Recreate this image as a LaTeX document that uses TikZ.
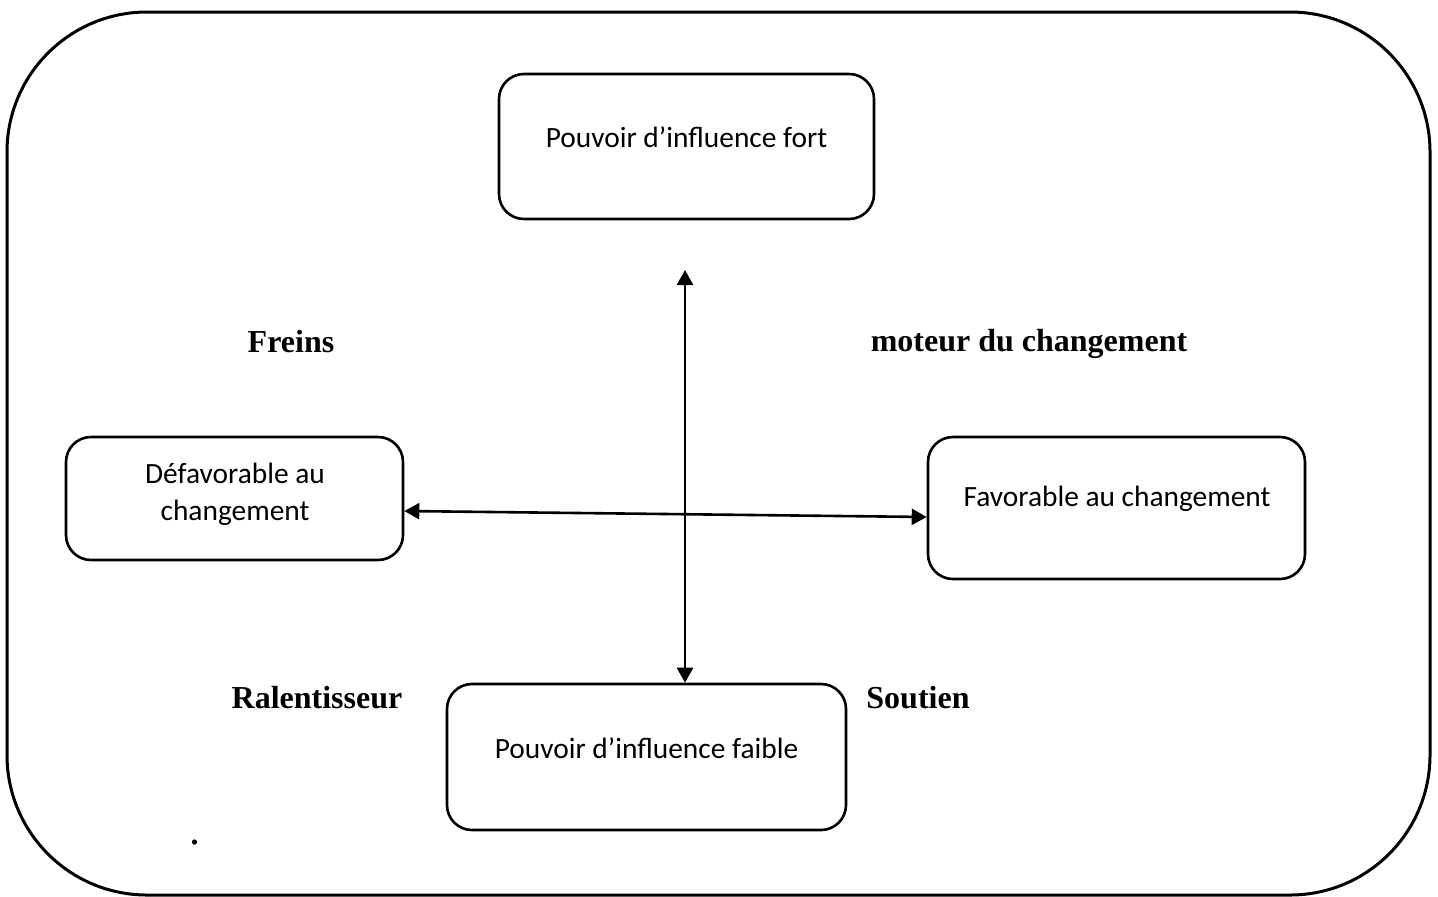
\documentclass[tikz,border=0pt]{standalone}
\usepackage{fontspec}
\setmainfont{Liberation Serif}
\newfontfamily\boxfont{Carlito}
\usetikzlibrary{arrows.meta}
\tikzset{
  frame/.style={draw=black, line width=1.5pt, rounded corners=70pt},
  box/.style={draw=black, line width=1.3pt, rounded corners=12.5pt, inner sep=0pt},
  boxtxt/.style={font=\boxfont\fontsize{14.7}{18.5}\selectfont, align=center, inner sep=0pt},
  lbl/.style={font=\fontsize{16}{19}\selectfont\bfseries, inner sep=0pt},
  conn/.style={line width=1.3pt, {Triangle[length=7.5pt,width=8pt]}-{Triangle[length=7.5pt,width=8pt]}}
}
\begin{document}
\begin{tikzpicture}[x=0.5pt,y=-0.5pt]
\useasboundingbox (0,0) rectangle (1438,896);
\draw[frame] (7,12) rectangle (1430,895);
% boxes
\node[box, minimum width=187.5pt, minimum height=72.5pt] (T) at (686.5,146.5) {};
\node[box, minimum width=168.5pt, minimum height=61.5pt] (L) at (234.5,498.5) {};
\node[box, minimum width=188.5pt, minimum height=71pt] (R) at (1116.5,508) {};
\node[box, minimum width=199.5pt, minimum height=73pt] (B) at (646.5,757) {};
% box texts
\node[boxtxt] (Tt) at (686.5,137) {Pouvoir d’influence fort};
\node[boxtxt] (Lt) at (235,494) {Défavorable au\\changement};
\node[boxtxt] (Rt) at (1117,499) {Favorable au changement};
\node[boxtxt] (Bt) at (646.5,748) {Pouvoir d’influence faible};
% labels
\node[lbl] (fr) at (291,342) {Freins};
\node[lbl] (mo) at (1029,344) {moteur du changement};
\node[lbl] (ra) at (317,698) {Ralentisseur};
\node[lbl] (so) at (918,698) {Soutien};
% dot
\node[inner sep=0pt] (dot) at (195,843) {\fontsize{22}{24}\selectfont .};
% connectors
\coordinate (vt) at (685,270);
\draw[conn] (vt) -- (B.north -| vt);
\draw[conn] (L.east |- 0,511) -- (R.west |- 0,517);
\end{tikzpicture}
\end{document}
